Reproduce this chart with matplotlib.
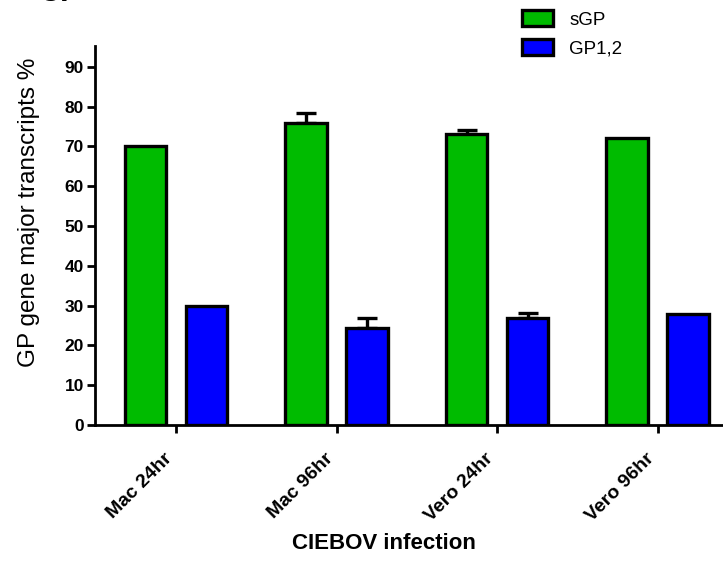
import matplotlib
matplotlib.use("Agg")
import matplotlib.pyplot as plt
import numpy as np

categories = ["Mac 24hr", "Mac 96hr", "Vero 24hr", "Vero 96hr"]
sgp = [70.0, 75.8, 73.1, 72.0]
sgp_err = [0.0, 2.6, 1.1, 0.0]
gp12 = [30.0, 24.3, 27.0, 27.8]
gp12_err = [0.0, 2.7, 1.2, 0.0]
yticks = [0, 10, 20, 30, 40, 50, 60, 70, 80, 90]

plt.rcParams['font.family'] = ['Liberation Sans', 'DejaVu Sans']

fig = plt.figure(figsize=(7.23, 5.61), dpi=100)
ax = fig.add_axes([0.1314, 0.2424, 0.8686, 0.6756])

x = np.arange(len(categories))
w = 0.26
off = 0.19
green = "#00BB00"
blue = "#0000FF"
lw = 2.4

def draw(xpos, vals, errs, color, label):
    ax.bar(xpos, vals, width=w, color=color, edgecolor="black", linewidth=lw,
           label=label, zorder=3)
    ex = [xp for xp, e in zip(xpos, errs) if e > 0]
    ev = [v for v, e in zip(vals, errs) if e > 0]
    ee = [e for e in errs if e > 0]
    ax.errorbar(ex, ev, yerr=[np.zeros(len(ee)), ee], fmt="none", ecolor="black",
                elinewidth=2.4, capsize=7, capthick=2.4, zorder=2)

draw(x - off, sgp, sgp_err, green, "sGP")
draw(x + off, gp12, gp12_err, blue, "GP1,2")

ax.set_xlim(-0.505, 3.408)
ax.set_ylim(0, 95.2)
ax.set_yticks(yticks)
ax.set_yticklabels([str(t) for t in yticks], fontsize=12.5, fontweight="bold")
ax.set_xticks(x)
ax.set_xticklabels(categories, rotation=45, ha="right", va="top",
                   fontsize=14, fontweight="bold")
for s in ["top", "right"]:
    ax.spines[s].set_visible(False)
for s in ["left", "bottom"]:
    ax.spines[s].set_linewidth(2.0)
ax.tick_params(axis="y", direction="out", length=6, width=2.0, pad=2)
ax.tick_params(axis="x", direction="out", length=6, width=2.0, pad=12)

ax.set_ylabel("GP gene major transcripts %", fontsize=17.5)
ax.yaxis.set_label_coords(-0.088, 0.562)
ax.set_xlabel("CIEBOV infection", fontsize=16, fontweight="bold")
ax.xaxis.set_label_coords(0.46, -0.285)

leg = fig.legend(loc="upper left", bbox_to_anchor=(0.698, 1.012), frameon=False,
                 fontsize=13.5, handlelength=1.7, handleheight=0.95,
                 handletextpad=0.85, labelspacing=0.55)
for p in leg.get_patches():
    p.set_linewidth(2.4)

fig.text(0.053, 1.012, "C.", fontsize=22, fontweight="bold", ha="left", va="center")

fig.savefig("out.png", dpi=100)
